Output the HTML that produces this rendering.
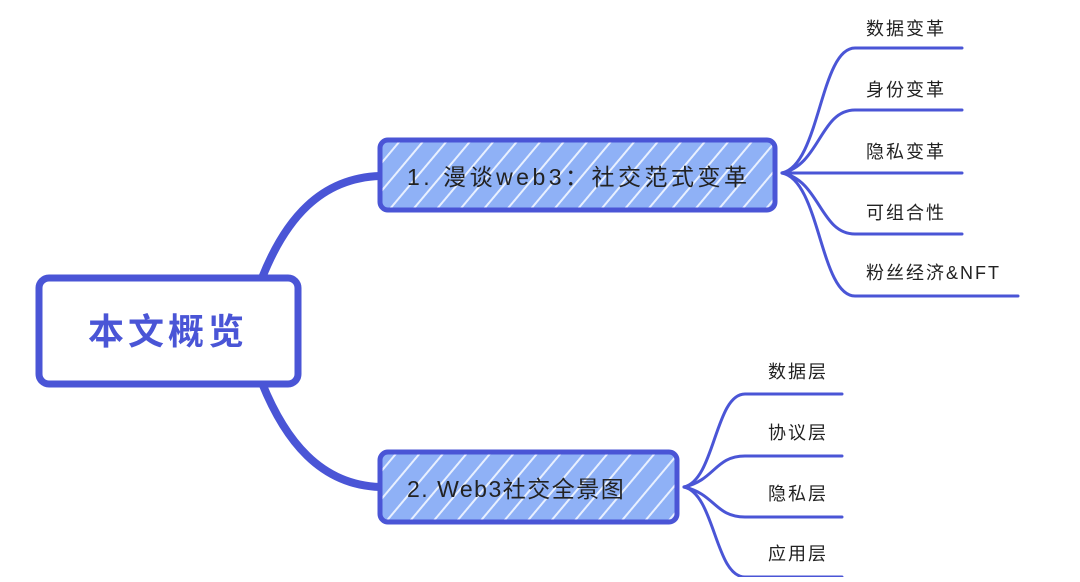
<!DOCTYPE html>
<html><head><meta charset="utf-8"><style>
body{margin:0;background:#fff;width:1080px;height:577px;overflow:hidden}
text{font-family:"Liberation Sans","Noto Sans CJK SC",sans-serif;fill:#222;}
</style></head><body>
<svg width="1080" height="577" viewBox="0 0 1080 577">
<defs>
<pattern id="h" width="18" height="18" patternUnits="userSpaceOnUse" patternTransform="rotate(40)">
<rect width="18" height="18" fill="#8fb1f6"/><rect x="0" y="0" width="2" height="18" fill="#e8f0ff"/>
</pattern>
</defs>
<g fill="none" stroke="#4a55d6" stroke-linecap="round">
<path d="M262 278 C285 220 320 178 380 176" stroke-width="8"/>
<path d="M262 383 C285 440 320 485 380 487" stroke-width="8"/>
<g stroke-width="3">
<path d="M782 173 C820 165 820 48 855 48 L962 48"/>
<path d="M782 173 C820 165 820 110 855 110 L962 110"/>
<path d="M782 173 L962 173"/>
<path d="M782 173 C820 180 820 234 855 234 L962 234"/>
<path d="M782 173 C820 180 820 296 855 296 L1018 296"/>
<path d="M684 487 C715 480 715 394 745 394 L842 394"/>
<path d="M684 487 C715 480 715 456 745 456 L842 456"/>
<path d="M684 487 C715 494 715 517 745 517 L842 517"/>
<path d="M684 487 C715 494 715 577 745 577 L842 577"/>
</g>
</g>
<rect x="39" y="278" width="259" height="106" rx="10" fill="#fff" stroke="#4a55d6" stroke-width="7"/>
<text x="168" y="344" text-anchor="middle" font-size="36" font-weight="bold" style="fill:#4a55d6" letter-spacing="4">本文概览</text>
<rect x="380" y="140" width="395" height="70" rx="8" fill="url(#h)" stroke="#4a55d6" stroke-width="5"/>
<text x="407" y="185" font-size="23" letter-spacing="3.5">1. 漫谈web3：社交范式变革</text>
<rect x="380" y="452" width="297" height="70" rx="8" fill="url(#h)" stroke="#4a55d6" stroke-width="5"/>
<text x="407" y="497" font-size="23" letter-spacing="1.5">2. Web3社交全景图</text>
<g font-size="18" letter-spacing="2">
<text x="866" y="35">数据变革</text>
<text x="866" y="96">身份变革</text>
<text x="866" y="158">隐私变革</text>
<text x="866" y="219">可组合性</text>
<text x="866" y="279">粉丝经济&amp;NFT</text>
<text x="768" y="378">数据层</text>
<text x="768" y="439">协议层</text>
<text x="768" y="500">隐私层</text>
<text x="768" y="560">应用层</text>
</g>
</svg>
</body></html>
